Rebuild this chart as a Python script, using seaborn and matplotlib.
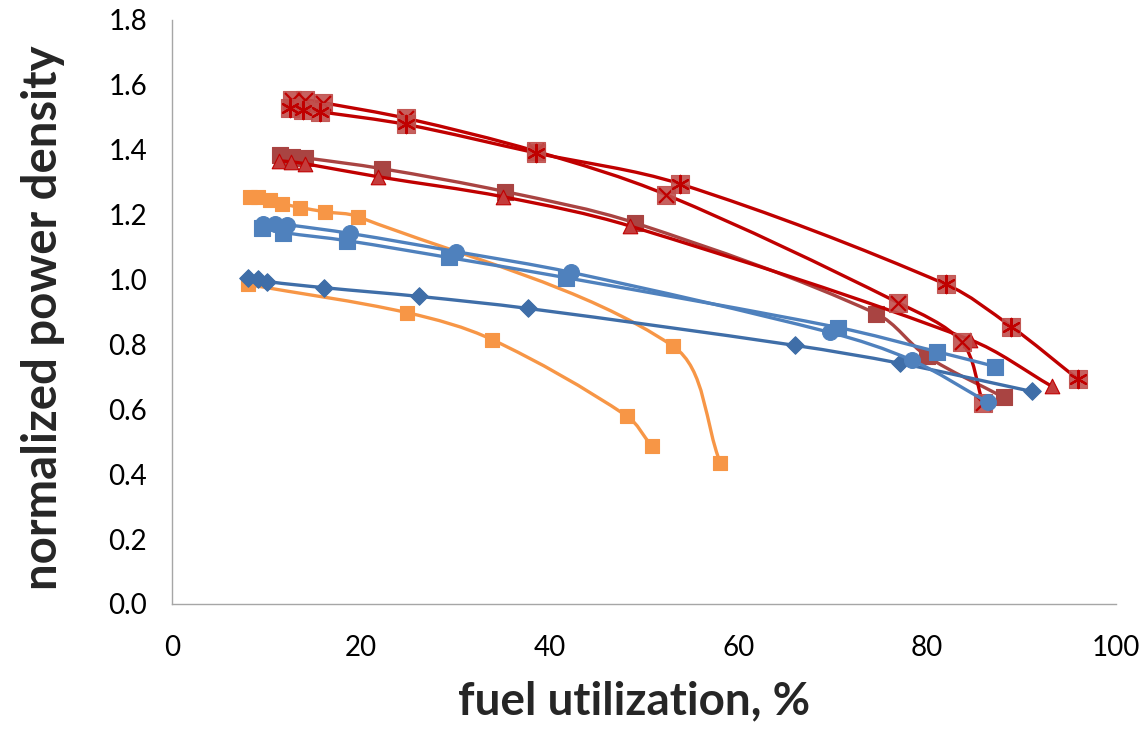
import numpy as np
import pandas as pd
import matplotlib
matplotlib.use("Agg")
import matplotlib.pyplot as plt
from matplotlib.path import Path
from matplotlib.patches import PathPatch
import seaborn as sns

# ---------------- data ----------------
diam_x = [8.0, 9.1, 10.1, 16.1, 26.2, 37.7, 66.0, 77.1, 91.1]
diam_y = [1.006, 1.003, 0.994, 0.975, 0.948, 0.911, 0.797, 0.742, 0.655]

lbsq_x = [9.5, 11.8, 18.5, 29.3, 41.7, 70.6, 81.0, 87.2]
lbsq_y = [1.160, 1.145, 1.120, 1.068, 1.006, 0.852, 0.778, 0.732]

circ_x = [9.6, 10.9, 12.2, 18.9, 30.1, 42.3, 69.7, 78.4, 86.4]
circ_y = [1.172, 1.172, 1.169, 1.142, 1.086, 1.022, 0.837, 0.751, 0.622]

orA_x = [8.0, 24.9, 33.9, 48.2, 50.8]
orA_y = [0.985, 0.898, 0.815, 0.579, 0.487]

orB_x = [8.3, 9.1, 10.4, 11.7, 13.6, 16.2, 19.7, 53.1, 58.1]
orB_y = [1.255, 1.255, 1.246, 1.234, 1.222, 1.209, 1.194, 0.794, 0.434]

brown_x = [11.4, 12.7, 14.1, 22.2, 35.3, 49.0, 74.6, 80.0, 88.1]
brown_y = [1.385, 1.378, 1.375, 1.342, 1.271, 1.175, 0.895, 0.763, 0.637]

tri_x = [11.3, 12.6, 14.1, 21.8, 35.1, 48.5, 84.5, 93.2]
tri_y = [1.366, 1.363, 1.357, 1.317, 1.255, 1.165, 0.815, 0.671]

xsq_x = [12.7, 14.1, 16.0, 24.8, 38.6, 52.3, 76.9, 83.7, 85.9]
xsq_y = [1.554, 1.554, 1.545, 1.497, 1.395, 1.262, 0.929, 0.806, 0.620]

ast_x = [12.5, 13.9, 15.7, 24.8, 38.6, 53.8, 82.0, 88.9, 96.0]
ast_y = [1.529, 1.523, 1.517, 1.478, 1.390, 1.295, 0.985, 0.855, 0.692]

x_ticks = [0, 20, 40, 60, 80, 100]
y_ticks = [0.0, 0.2, 0.4, 0.6, 0.8, 1.0, 1.2, 1.4, 1.6, 1.8]
x_label = "fuel utilization, %"
y_label = "normalized power density"

# ---------------- style ----------------
sns.set_style("white")
plt.rcParams["font.family"] = ["Lato", "DejaVu Sans"]

fig = plt.figure(figsize=(11.45, 7.39), dpi=100)
ax = fig.add_axes([172 / 1145, 1 - 604 / 739, (1116 - 172) / 1145, (604 - 20) / 739])

RED = "#C00000"
BLUE_D = "#3F6EA8"
BLUE_L = "#4F81BD"
ORANGE = "#F79646"
BROWN = "#A94442"

# aspect factors so that the smoothing is done in (approximate) screen space
SX, SY = 944 / 100.0, 584 / 1.8


def smooth_path(xs, ys):
    """Bezier path through the data points with handles proportional to segment
    lengths (similar to Excel's smoothed lines)."""
    P = np.column_stack([xs, ys]).astype(float)
    n = len(P)
    S = P * np.array([SX, SY])

    def d(a, b):
        return float(np.hypot(*(S[b] - S[a])))

    verts = [P[0]]
    codes = [Path.MOVETO]
    for i in range(n - 1):
        i0 = i - 1 if i > 0 else i
        i3 = i + 2 if i + 2 < n else i + 1
        d01 = d(i0, i)
        d12 = d(i, i + 1)
        d23 = d(i + 1, i3)
        f1 = d12 / (d01 + d12) if d01 + d12 > 0 else 0.5
        f2 = d12 / (d12 + d23) if d12 + d23 > 0 else 0.5
        c1 = P[i] + (P[i + 1] - P[i0]) * f1 / 3.0
        c2 = P[i + 1] - (P[i3] - P[i]) * f2 / 3.0
        verts += [c1, c2, P[i + 1]]
        codes += [Path.CURVE4] * 3
    return Path(verts, codes)


def draw_series(xs, ys, line_color, marker, m_face, m_edge, size, z, lw=2.4,
                alpha=1.0, overlay=None, ov_size=None):
    patch = PathPatch(smooth_path(xs, ys), facecolor="none", edgecolor=line_color,
                      lw=lw, zorder=z, capstyle="round", joinstyle="round")
    ax.add_patch(patch)
    df = pd.DataFrame({"x": xs, "y": ys})
    sns.scatterplot(data=df, x="x", y="y", marker=marker, s=size, color=m_face,
                    edgecolor=m_edge, linewidth=0.8, alpha=alpha, ax=ax,
                    zorder=z + 0.5, legend=False)
    if overlay is not None:
        sns.scatterplot(data=df, x="x", y="y", marker=overlay, s=ov_size,
                        color=RED, linewidth=1.6, ax=ax, zorder=z + 0.6, legend=False)


# red / brown series first (they lie underneath the blue ones)
draw_series(brown_x, brown_y, BROWN, "s", BROWN, BROWN, 120, 2)
draw_series(tri_x, tri_y, RED, "^", "#C43C3C", RED, 110, 3)
draw_series(xsq_x, xsq_y, RED, "s", "#C0504D", "#C0504D", 160, 4, alpha=0.9,
            overlay="x", ov_size=115)
draw_series(ast_x, ast_y, RED, "s", "#C0504D", "#C0504D", 160, 5, alpha=0.9,
            overlay=(6, 2, 0), ov_size=155)
draw_series(orA_x, orA_y, ORANGE, "s", ORANGE, ORANGE, 115, 6)
draw_series(orB_x, orB_y, ORANGE, "s", ORANGE, ORANGE, 115, 7)
draw_series(diam_x, diam_y, BLUE_D, "D", BLUE_D, BLUE_D, 80, 8)
draw_series(lbsq_x, lbsq_y, BLUE_L, "s", BLUE_L, BLUE_L, 120, 9)
draw_series(circ_x, circ_y, BLUE_L, "o", BLUE_L, BLUE_L, 130, 10)

# ---------------- axes ----------------
ax.set_xlim(0, 100)
ax.set_ylim(0, 1.8)
ax.set_xticks(x_ticks)
ax.set_yticks(y_ticks)
ax.set_xticklabels([str(t) for t in x_ticks])
ax.set_yticklabels([f"{t:.1f}" for t in y_ticks])
ax.tick_params(axis="both", which="major", labelsize=20, length=8, width=1.0,
               color="#A6A6A6", direction="out", labelcolor="black")
ax.tick_params(axis="x", pad=14)
ax.tick_params(axis="y", pad=10)
for side in ["top", "right"]:
    ax.spines[side].set_visible(False)
for side in ["left", "bottom"]:
    ax.spines[side].set_color("#A6A6A6")
    ax.spines[side].set_linewidth(1.0)

ax.set_xlabel(x_label, fontsize=33, fontweight="bold")
ax.set_ylabel(y_label, fontsize=34, fontweight="bold")
ax.xaxis.set_label_coords(0.49, -0.13)
ax.yaxis.set_label_coords(-0.113, 0.49)

fig.savefig("out.png", dpi=100)
